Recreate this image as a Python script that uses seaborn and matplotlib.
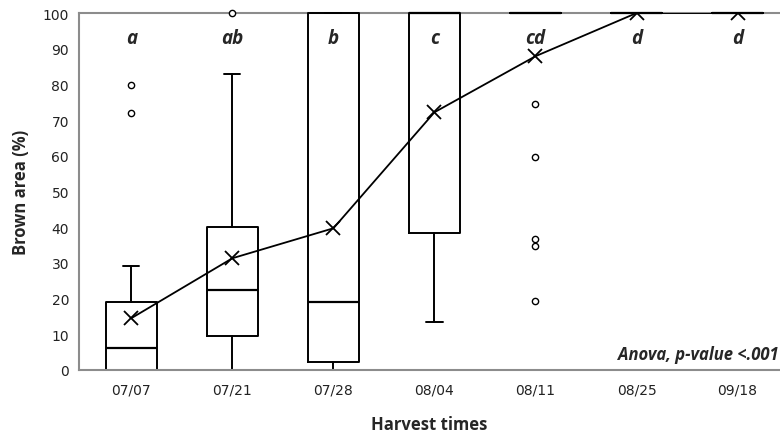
import numpy as np
import seaborn as sns
import matplotlib.pyplot as plt

# Box statistics (Brown area, %)
harvest = ['07/07', '07/21', '07/28', '08/04', '08/11', '08/25', '09/18']
q1 = [0, 9.5, 2.2, 38.3, 100, 100, 100]
median = [6.2, 22.5, 19.1, 100, 100, 100, 100]
q3 = [18.9, 40.0, 100, 100, 100, 100, 100]
whislo = [0, 0, 0, 13.5, 100, 100, 100]
whishi = [29.1, 82.9, 100, 100, 100, 100, 100]
fliers = [[71.9, 79.9], [100], [], [], [19.4, 34.6, 36.7, 59.6, 74.5], [], []]
means = [14.5, 31.3, 39.7, 72.2, 87.9, 100, 100]
letters = ['a', 'ab', 'b', 'c', 'cd', 'd', 'd']

sns.set_theme(style='white')
plt.rcParams['font.family'] = ['DejaVu Sans']
label_font = ['Open Sans', 'DejaVu Sans']

fig = plt.figure(figsize=(7.8, 4.39), dpi=100)
ax = fig.add_axes([0.101, 0.155, 0.899, 0.813])

stats = []
for i in range(len(harvest)):
    stats.append(dict(q1=q1[i], med=median[i], q3=q3[i], whislo=whislo[i],
                      whishi=whishi[i], fliers=fliers[i], label=harvest[i]))

pos = np.arange(len(harvest))
line_kw = dict(color='black', linewidth=1.4)
arts = ax.bxp(stats, positions=pos, widths=0.5, capwidths=0.16, showfliers=True,
              boxprops=line_kw, medianprops=dict(color='black', linewidth=1.6),
              whiskerprops=line_kw, capprops=line_kw,
              flierprops=dict(marker='o', markersize=4.5, markerfacecolor='white',
                              markeredgecolor='black', markeredgewidth=1.0))
for group in arts.values():
    for a in group:
        a.set_clip_on(False)

# mean line with x markers
sns.lineplot(x=pos, y=means, ax=ax, color='black', linewidth=1.3, marker='x',
             markersize=10, markeredgewidth=1.3, markeredgecolor='black')

for i, t in enumerate(letters):
    ax.text(pos[i], 93, t, ha='center', va='center', fontsize=13.5,
            fontweight='bold', fontstyle='italic', family=label_font)

ax.text(0.998, 0.045, 'Anova, p-value <.001', transform=ax.transAxes,
        ha='right', va='center', fontsize=12, fontstyle='italic',
        fontweight='bold', family=label_font)

ax.set_xlim(-0.52, 6.42)
ax.set_ylim(0, 100)
ax.set_yticks(np.arange(0, 101, 10))
ax.set_xticks(pos)
ax.set_xticklabels(harvest)
ax.tick_params(axis='both', length=0, labelsize=10, colors='#222222')
ax.tick_params(axis='y', pad=7)
ax.tick_params(axis='x', pad=9)

for side in ['left', 'bottom', 'top']:
    ax.spines[side].set_color('#8c8c8c')
    ax.spines[side].set_linewidth(1.5)
ax.spines['top'].set_zorder(1)
ax.spines['right'].set_visible(False)

ax.set_ylabel('Brown area (%)', fontsize=12, fontweight='bold', labelpad=9,
              family=label_font)
ax.set_xlabel('Harvest times', fontsize=12, fontweight='bold', labelpad=13,
              family=label_font)

fig.savefig('out.png', dpi=100)
